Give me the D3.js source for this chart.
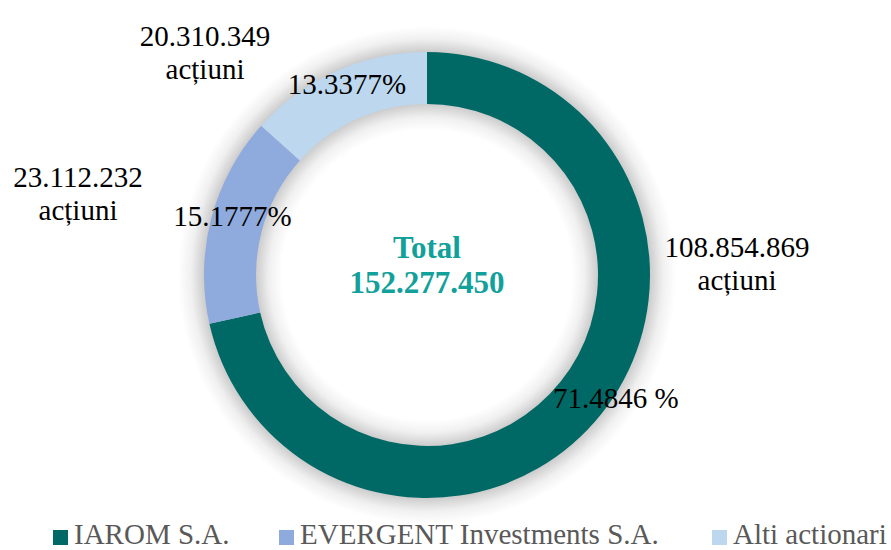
<!DOCTYPE html>
<html>
<head>
<meta charset="utf-8">
<script src="https://cdn.jsdelivr.net/npm/d3@7"></script>
<style>
  body { margin: 0; background: #fff; }
  text { font-family: "Liberation Serif", "Times New Roman", serif; }
</style>
</head>
<body>
<div id="chart"></div>
<script>
// shareholders
var names = ["IAROM S.A.", "EVERGENT Investments S.A.", "Alti actionari"];
var shares = [108854869, 23112232, 20310349];
var shareLabels = ["108.854.869", "23.112.232", "20.310.349"];
var percentLabels = ["71.4846 %", "15.1777%", "13.3377%"];
var colors = ["#006865", "#8FAADC", "#BDD7EE"];
var totalLabel = "152.277.450";

var width = 891;
var height = 550;
var cx = 427, cy = 275;
var outerR = 223, innerR = 171;
var spread = 26;

var svg = d3.select("#chart")
  .append("svg")
  .attr("width", width)
  .attr("height", height);

//radial gradient that fakes the soft shadow on both edges of the ring
var R = outerR + spread;
var grad = svg.append("defs").append("radialGradient")
  .attr("id", "shade")
  .attr("gradientUnits", "userSpaceOnUse")
  .attr("cx", 0).attr("cy", 0).attr("r", R);
[[innerR - spread, 0], [innerR - spread / 2, 0.06], [innerR, 0.2],
 [outerR, 0.2], [outerR + spread / 2, 0.06], [R, 0]].forEach(function(s) {
  grad.append("stop")
    .attr("offset", s[0] / R)
    .attr("stop-color", "#000")
    .attr("stop-opacity", s[1]);
});

var pie = d3.pie().sort(null).value(function(d) { return d; });
var arc = d3.arc().innerRadius(innerR).outerRadius(outerR);
var arcs = pie(shares);

var g = svg.append("g")
  .attr("transform", "translate(" + cx + "," + cy + ")");

//shadow ring
g.append("path")
  .attr("d", d3.arc().innerRadius(innerR - spread).outerRadius(R)({startAngle: 0, endAngle: 2 * Math.PI}))
  .attr("fill", "url(#shade)");

g.append("g")
  .selectAll("path")
  .data(arcs)
  .enter().append("path")
  .attr("d", arc)
  .attr("fill", function(d, i) { return colors[i]; });

//percent labels on the ring (nudged the way excel places them)
var pctNudge = [[35, 0], [-4, -9], [0, -11]];
g.selectAll(".pct")
  .data(arcs)
  .enter().append("text")
  .attr("class", "pct")
  .attr("x", function(d, i) { return arc.centroid(d)[0] + pctNudge[i][0]; })
  .attr("y", function(d, i) { return arc.centroid(d)[1] + pctNudge[i][1]; })
  .attr("dy", "0.35em")
  .attr("text-anchor", "middle")
  .style("font-size", "29px")
  .attr("fill", "#000")
  .text(function(d, i) { return percentLabels[i]; });

//outside labels
var outPos = [[310, -12], [-349, -82], [-222, -223]];
var outer = g.selectAll(".out")
  .data(arcs)
  .enter().append("text")
  .attr("class", "out")
  .attr("text-anchor", "middle")
  .style("font-size", "29px")
  .attr("fill", "#000")
  .attr("transform", function(d, i) { return "translate(" + outPos[i][0] + "," + outPos[i][1] + ")"; });
outer.append("tspan")
  .attr("x", 0).attr("y", -6)
  .text(function(d, i) { return shareLabels[i]; });
outer.append("tspan")
  .attr("x", 0).attr("y", 27)
  .text("acțiuni");

//total in the middle
var tot = g.append("text")
  .attr("text-anchor", "middle")
  .style("font-size", "31px")
  .style("font-weight", "bold")
  .attr("fill", "#12A09B");
tot.append("tspan").attr("x", 0).attr("y", -17).text("Total");
tot.append("tspan").attr("x", 0).attr("y", 18).text(totalLabel);

//legend
var legX = [53, 279, 712];
var leg = svg.selectAll(".leg")
  .data(names)
  .enter().append("g")
  .attr("class", "leg")
  .attr("transform", function(d, i) { return "translate(" + legX[i] + ",530)"; });
leg.append("rect")
  .attr("width", 15).attr("height", 15)
  .attr("fill", function(d, i) { return colors[i]; });
leg.append("text")
  .attr("x", 21).attr("y", 14)
  .style("font-size", "29px")
  .attr("fill", "#595959")
  .text(function(d) { return d; });
</script>
</body>
</html>
